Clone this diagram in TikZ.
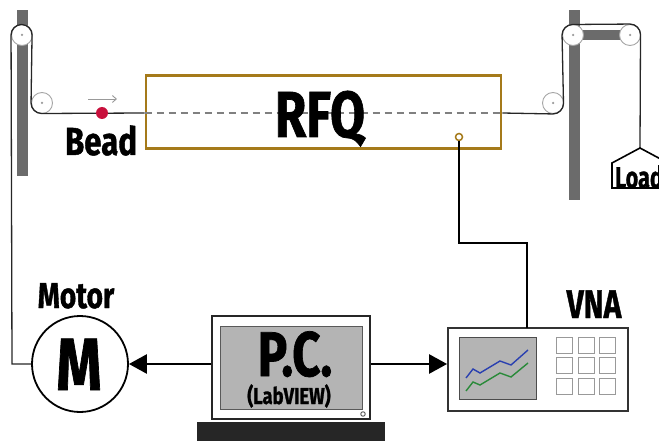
\documentclass[tikz,border=0pt]{standalone}
\usepackage{fontspec}
\setmainfont{Fira Sans}[BoldFeatures={FakeBold=1.2}]
\usetikzlibrary{arrows.meta}
% condensed bold lettering
\newcommand{\narrowtxt}[3]{{\fontsize{#1}{#1}\selectfont\bfseries\scalebox{#2}[1]{#3}}}
\definecolor{rfqgold}{HTML}{A57A1A}
\definecolor{polegray}{HTML}{6B6B6B}
\definecolor{screengray}{HTML}{B4B4B4}
\definecolor{beadred}{HTML}{C8103C}
\definecolor{traceblue}{HTML}{2A40B0}
\definecolor{tracegreen}{HTML}{2A8A3A}
\tikzset{
  pole/.style={fill=polegray, draw=none},
  pulley/.style={circle, draw=gray!70, fill=white, line width=0.9pt, minimum size=21pt, inner sep=0pt},
  axle/.style={circle, fill=gray!80, minimum size=2.5pt, inner sep=0pt},
  wire/.style={draw=black!85, line width=1.3pt},
  label/.style={inner sep=0pt, anchor=base},
  signal/.style={line width=2.6pt, -{Triangle[length=18pt,width=19pt]}},
  key/.style={draw=gray!80, line width=0.9pt, minimum size=16pt, inner sep=0pt},
}
\begin{document}
\begin{tikzpicture}[x=1pt,y=-1pt]
\useasboundingbox (0,0) rectangle (659,441);

% support poles
\fill[pole] (17,10) rectangle (28,176);
\fill[pole] (569,10) rectangle (580,200);
\fill[pole] (573,30) rectangle (630,40);

% pulleys
\node[pulley] (pl1) at (22,35) {};
\node[pulley] (pl2) at (42,103) {};
\node[pulley] (pr2) at (553,103) {};
\node[pulley] (pr1) at (573,35) {};
\node[pulley] (pr3) at (630,35) {};
\foreach \p in {pl1,pl2,pr2,pr1,pr3} \node[axle] at (\p) {};

% RFQ cavity
\node[draw=rfqgold, line width=2.6pt, minimum width=355pt, minimum height=73pt, inner sep=0pt] (rfq) at (323.5,112) {};
\coordinate (rfqin) at (rfq.west |- 0,113);
\coordinate (rfqout) at (rfq.east |- 0,113);
\draw[gray, line width=1.2pt, dash pattern=on 7pt off 5pt] (rfqin) -- (rfqout);
\node[label] (rfqtxt) at (320,137) {\narrowtxt{65}{0.78}{RFQ}};
\node[circle, draw=rfqgold, fill=white, line width=1.5pt, minimum size=7pt, inner sep=0pt] (coupler) at (459,137) {};

% Load weight
\node[draw=black, fill=white, line width=1.3pt, inner sep=0pt] (load) at (640,148) {};
\draw[fill=white, line width=1.6pt] (612,188) -- (612,163) -- (load.center) -- (668,163) -- (668,188) -- cycle;
\node[label] (loadtxt) at (639,188) {\narrowtxt{30}{0.72}{Load}};

% Motor
\node[circle, draw=black, line width=1.8pt, minimum size=96pt, inner sep=0pt] (motor) at (80,364) {};
\node[label] (mtxt) at (79,390) {\narrowtxt{74}{0.78}{M}};
\node[label] (motortxt) at (76,308) {\narrowtxt{36}{0.78}{Motor}};

% bead pulling wire
\draw[wire] (motor.west) -- (12,364) -- (pl1.west) arc[start angle=180, end angle=0, radius=10.5pt]
  -- (pl2.west) arc[start angle=180, end angle=270, radius=10.5pt] -- (rfqin);
\draw[wire] (rfqout) -- (pr2.south) arc[start angle=270, end angle=360, radius=10.5pt]
  -- (pr1.west) arc[start angle=180, end angle=90, radius=10.5pt]
  -- (pr3.north) arc[start angle=90, end angle=0, radius=10.5pt] -- (load.center);

% bead
\node[circle, fill=beadred, minimum size=12pt, inner sep=0pt] (bead) at (102,113) {};
\draw[gray!80, line width=0.9pt, -{Straight Barb[length=4pt,width=7pt]}] (88,99) -- (117,99);
\node[label] (beadtxt) at (101,155) {\narrowtxt{39}{0.8}{Bead}};

% PC
\node[draw=black!85, fill=white, line width=1.8pt, minimum width=158pt, minimum height=103pt, inner sep=0pt] (pc) at (291,367.5) {};
\node[draw=gray!70!black, fill=screengray, line width=1pt, minimum width=142pt, minimum height=83pt, inner sep=0pt] (pcscreen) at (291,367.5) {};
\node[circle, draw=gray!70!black, line width=0.9pt, minimum size=4.5pt, inner sep=0pt] (pcled) at (363,414) {};
\node[fill=black!85, minimum width=188pt, minimum height=20pt, inner sep=0pt, anchor=north] (pcbase) at (291,422) {};
\node[label] (pctxt) at (295,376) {\narrowtxt{63}{0.78}{P.C.}};
\node[label] (labview) at (289,404) {\narrowtxt{23}{0.8}{(LabVIEW)}};

% VNA
\node[draw=black!80, fill=white, line width=1.8pt, minimum width=180pt, minimum height=83pt, inner sep=0pt] (vna) at (538,369.5) {};
\node[draw=gray!60!black, fill=screengray, line width=1pt, minimum width=77pt, minimum height=62pt, inner sep=0pt] (vnascreen) at (497.5,368) {};
\draw[traceblue, line width=1.4pt] (466,378) -- (473,369) -- (480,373) -- (500,361) -- (511,365) -- (528,350);
\draw[tracegreen, line width=1.4pt] (466,391) -- (473,382) -- (480,385) -- (500,373) -- (511,377) -- (528,363);
\foreach \c/\x in {1/564,2/586,3/607}
  \foreach \r/\y in {1/345,2/365,3/386}
    \node[key] (k\r\c) at (\x,\y) {};
\node[label] (vnatxt) at (594,318) {\narrowtxt{40}{0.75}{VNA}};

% signal lines
\coordinate (bend) at (527,243);
\coordinate (vnain) at (527,328);
\draw[line width=2.6pt] (coupler.south) |- (bend) -- (vnain);
\draw[signal] (pc.west |- 0,364) -- (motor.east |- 0,364);
\draw[signal] (pc.east |- 0,364) -- (vna.west |- 0,364);
\end{tikzpicture}
\end{document}
